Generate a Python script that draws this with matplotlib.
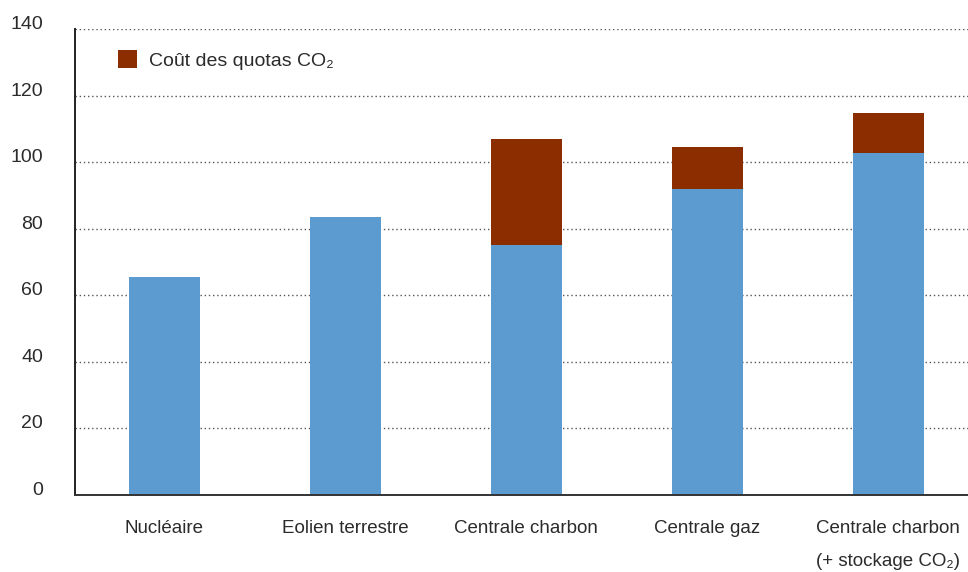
import matplotlib
matplotlib.use("Agg")
import matplotlib.pyplot as plt
import numpy as np

# data
categories = ["Nucléaire", "Eolien terrestre", "Centrale charbon", "Centrale gaz",
              "Centrale charbon\n(+ stockage CO₂)"]
base_cost = [65.6, 83.6, 75.1, 91.8, 102.6]
co2_cost = [0, 0, 31.9, 12.8, 12.2]
yticks = [0, 20, 40, 60, 80, 100, 120, 140]

blue = "#5b9bcf"
red = "#8c2d00"
txt = "#2b2b2b"

plt.rcParams["font.family"] = ["Liberation Sans Narrow", "Liberation Sans", "DejaVu Sans"]

fig = plt.figure(figsize=(9.68, 5.72), dpi=100)
ax = fig.add_axes([75 / 968, 1 - 495 / 572, 1 - 75 / 968, (495 - 29) / 572])

x = np.arange(len(categories))
w = 0.392
ax.bar(x, base_cost, width=w, color=blue, zorder=2)
ax.bar(x, co2_cost, bottom=base_cost, width=w, color=red, zorder=2,
       label="Coût des quotas CO₂")

ax.set_xlim(-0.494, 4.44)
ax.set_ylim(0, 140)
ax.set_yticks(yticks)
ax.set_yticklabels([str(v) for v in yticks], fontsize=14, color=txt, va="baseline")
ax.set_xticks(x)
ax.set_xticklabels(categories, fontsize=13.5, color=txt, linespacing=2.25)
ax.tick_params(axis="both", length=0)
ax.tick_params(axis="y", pad=23)
ax.tick_params(axis="x", pad=18)

ax.grid(axis="y", linestyle=(0, (1, 2)), color="#555555", linewidth=1, zorder=0)
for s in ["top", "right"]:
    ax.spines[s].set_visible(False)
ax.spines["left"].set_color("#222222")
ax.spines["left"].set_linewidth(1.4)
ax.spines["bottom"].set_color("#333333")
ax.spines["bottom"].set_linewidth(1.4)

# legend only for the CO2 part
handles, labels = ax.get_legend_handles_labels()
ax.legend(handles, labels, loc="upper left", bbox_to_anchor=(0.028, 0.992),
          frameon=False, fontsize=14, handlelength=1.0, handleheight=1.0,
          handletextpad=0.6, labelcolor=txt)

fig.savefig("out.png", dpi=100)
